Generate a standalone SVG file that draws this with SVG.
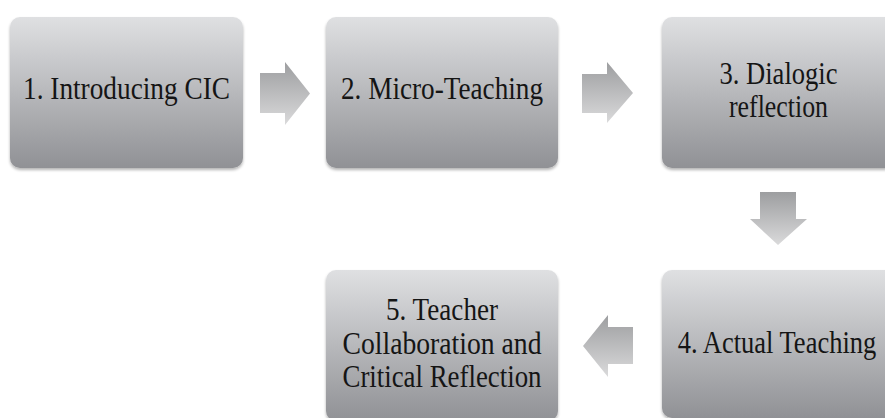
<svg xmlns="http://www.w3.org/2000/svg" width="885" height="418" viewBox="0 0 885 418">
<defs>
<linearGradient id="boxg" x1="0" y1="0" x2="0" y2="1">
<stop offset="0" stop-color="#dfe0e2"/>
<stop offset="1" stop-color="#909195"/>
</linearGradient>
<linearGradient id="arrg" x1="0" y1="0" x2="0" y2="1">
<stop offset="0" stop-color="#9d9ea0"/>
<stop offset="1" stop-color="#dadadb"/>
</linearGradient>
<filter id="sh" x="-5%" y="-5%" width="110%" height="115%">
<feGaussianBlur in="SourceAlpha" stdDeviation="1.5"/>
<feOffset dx="0" dy="2" result="b"/>
<feComponentTransfer><feFuncA type="linear" slope="0.3"/></feComponentTransfer>
<feMerge><feMergeNode/><feMergeNode in="SourceGraphic"/></feMerge>
</filter>
</defs>
<style>
.box{fill:url(#boxg);filter:url(#sh)}
.arr{fill:url(#arrg)}
.t{font-family:"Liberation Serif","Times New Roman",serif;font-size:31px;fill:#151515;text-anchor:middle}
</style>
<rect width="885" height="418" fill="#ffffff"/>
<g id="connectors">
<polygon class="arr" points="260,73 285,73 285,62 310,93.5 285,125 285,113 260,113"/>
<polygon class="arr" points="582,74 607,74 607,62 633,93 607,123 607,113 582,113"/>
<polygon class="arr" points="760,192 796,192 796,219 807,219 778,245 750,219 760,219"/>
<polygon class="arr" points="633,327 608,327 608,315 583,346 608,377 608,364 633,364"/>
</g>
<g id="node1">
<rect class="box" x="10" y="17" width="233" height="151" rx="10"/>
<text class="t" x="126.5" y="99" textLength="207" lengthAdjust="spacingAndGlyphs">1. Introducing CIC</text>
</g>
<g id="node2">
<rect class="box" x="326" y="17" width="232" height="151" rx="10"/>
<text class="t" x="442" y="99" textLength="202" lengthAdjust="spacingAndGlyphs">2. Micro-Teaching</text>
</g>
<g id="node3">
<rect class="box" x="662" y="17" width="233" height="151" rx="10"/>
<text class="t" x="778.5" y="84" textLength="118" lengthAdjust="spacingAndGlyphs">3. Dialogic</text>
<text class="t" x="778.5" y="117" textLength="99" lengthAdjust="spacingAndGlyphs">reflection</text>
</g>
<g id="node4">
<rect class="box" x="662" y="270" width="233" height="148" rx="10"/>
<text class="t" transform="translate(777,353) scale(0.855,1)" x="0" y="0">4. Actual Teaching</text>
</g>
<g id="node5">
<rect class="box" x="326" y="270" width="232" height="151" rx="10"/>
<text class="t" x="442" y="320" textLength="112" lengthAdjust="spacingAndGlyphs">5. Teacher</text>
<text class="t" x="442" y="354" textLength="199" lengthAdjust="spacingAndGlyphs">Collaboration and</text>
<text class="t" x="442" y="387" textLength="199" lengthAdjust="spacingAndGlyphs">Critical Reflection</text>
</g>
</svg>
